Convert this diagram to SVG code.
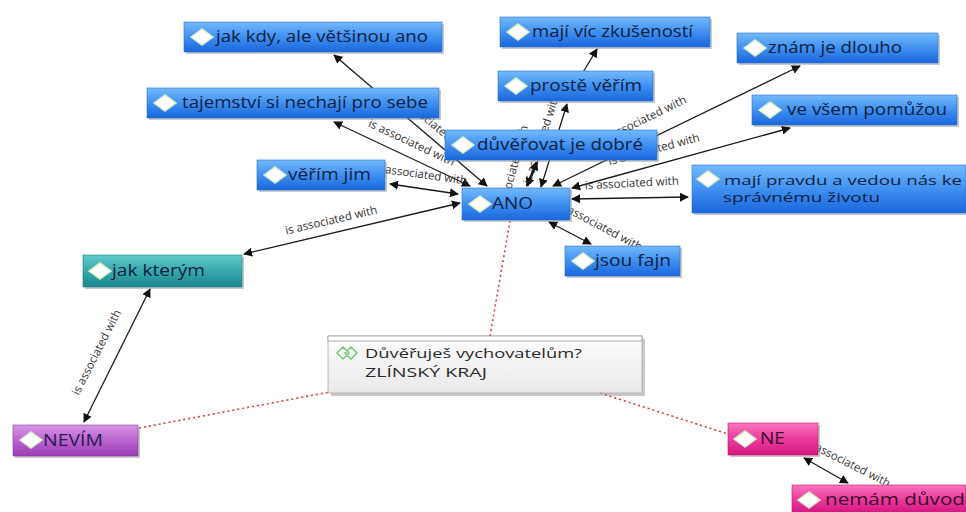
<svg xmlns="http://www.w3.org/2000/svg" width="966" height="512" viewBox="0 0 966 512">
<defs>
<linearGradient id="gBlue" x1="0" y1="0" x2="0" y2="1"><stop offset="0" stop-color="#74b9fb"/><stop offset="0.5" stop-color="#3f90f1"/><stop offset="1" stop-color="#1a66dc"/></linearGradient>
<linearGradient id="gTeal" x1="0" y1="0" x2="0" y2="1"><stop offset="0" stop-color="#62c9c9"/><stop offset="0.5" stop-color="#36a9ad"/><stop offset="1" stop-color="#1d8790"/></linearGradient>
<linearGradient id="gPurple" x1="0" y1="0" x2="0" y2="1"><stop offset="0" stop-color="#d896e6"/><stop offset="0.5" stop-color="#b964cf"/><stop offset="1" stop-color="#9a3db3"/></linearGradient>
<linearGradient id="gPink" x1="0" y1="0" x2="0" y2="1"><stop offset="0" stop-color="#fa74bd"/><stop offset="0.5" stop-color="#ec3c9c"/><stop offset="1" stop-color="#d31680"/></linearGradient>
<linearGradient id="gNote" x1="0" y1="0" x2="0" y2="1"><stop offset="0" stop-color="#fdfdfd"/><stop offset="1" stop-color="#e9e9e9"/></linearGradient>
<marker id="ah" viewBox="0 0 10 10" refX="9" refY="5" markerWidth="9" markerHeight="9" markerUnits="userSpaceOnUse" orient="auto-start-reverse"><path d="M0,0 L10,5 L0,10 Z" fill="#111"/></marker>
<marker id="ahe" viewBox="0 0 10 10" refX="9" refY="5" markerWidth="9" markerHeight="9" markerUnits="userSpaceOnUse" orient="auto"><path d="M0,0 L10,5 L0,10 Z" fill="#111"/></marker>
<g id="dia"><path d="M-11,0 L0,-8 L11,0 L0,8 Z" fill="#ffffff" stroke="#d8f0c8" stroke-width="1.5"/></g>
</defs>
<style>
.lk{stroke:#1a1a1a;stroke-width:1.3;fill:none;marker-start:url(#ah);marker-end:url(#ah)}
.one{stroke:#1a1a1a;stroke-width:1.3;fill:none;marker-end:url(#ahe)}
.thick{stroke-width:2.6}
.dot{stroke:#e23a3a;stroke-width:1.6;stroke-dasharray:2 3;fill:none}
.lb{font-family:"Open Sans","DejaVu Sans",sans-serif;font-size:11.5px;fill:#333;text-anchor:middle}
.sh{fill:#8a8a8a;opacity:0.45}
.nt{font-family:"Open Sans","DejaVu Sans",sans-serif;font-size:15.5px;fill:#10203f}
.nt2{font-family:"Open Sans","DejaVu Sans",sans-serif;font-size:13.5px;fill:#10203f}
.nt3{font-family:"Open Sans","DejaVu Sans",sans-serif;font-size:13px;fill:#10203f}
.bl{fill:url(#gBlue)}
.nodeStroke{stroke:#2b6fd0;stroke-width:0.6}
</style>
<rect width="966" height="512" fill="#ffffff"/>
<g id="connectors">
<path class="dot" d="M490,336 L510,221"/>
<path class="dot" d="M139,428 L330,392"/>
<path class="dot" d="M600,393 L728,434"/>
<line class="lk" x1="487" y1="186" x2="334" y2="55"/>
<text class="lb" transform="translate(432,128) rotate(40)">is associated with</text>
<line class="lk" x1="470" y1="186" x2="334" y2="122"/>
<text class="lb" transform="translate(410,146) rotate(25)">is associated with</text>
<line class="lk" x1="390" y1="184" x2="458" y2="194"/>
<text class="lb" transform="translate(420,178) rotate(8)">is associated with</text>
<line class="lk" x1="460" y1="203" x2="244" y2="254"/>
<text class="lb" transform="translate(332,224) rotate(-13)">is associated with</text>
<line class="lk" x1="541" y1="187" x2="567" y2="104"/>
<text class="lb" transform="translate(545,140) rotate(-72)">is associated with</text>
<line class="lk thick" x1="527" y1="186" x2="537" y2="162"/>
<text class="lb" transform="translate(516,172) rotate(-75)">is associated with</text>
<line class="one" x1="582" y1="74" x2="597" y2="49"/>
<line class="lk" x1="553" y1="186" x2="800" y2="66"/>
<text class="lb" transform="translate(645,123) rotate(-26)">is associated with</text>
<line class="lk" x1="572" y1="188" x2="790" y2="128"/>
<text class="lb" transform="translate(655,153) rotate(-15)">is associated with</text>
<line class="lk" x1="572" y1="199" x2="688" y2="197"/>
<text class="lb" transform="translate(632,187) rotate(-3)">is associated with</text>
<line class="lk" x1="549" y1="222" x2="591" y2="244"/>
<text class="lb" transform="translate(598,229) rotate(28)">is associated with</text>
<line class="lk" x1="150" y1="289" x2="84" y2="422"/>
<text class="lb" transform="translate(100,354) rotate(-63)">is associated with</text>
<line class="lk" x1="804" y1="458" x2="848" y2="483"/>
<text class="lb" transform="translate(846,466) rotate(27)">is associated with</text>
</g>
<g id="n-jakkdy"><rect class="sh" x="186" y="24" width="258" height="30"/><rect class="bl nodeStroke" x="184" y="22" width="258" height="30"/><use href="#dia" x="202" y="37"/><text class="nt" x="216" y="42" textLength="212" lengthAdjust="spacingAndGlyphs">jak kdy, ale většinou ano</text></g>
<g id="n-tajemstvi"><rect class="sh" x="149" y="90" width="292" height="30"/><rect class="bl nodeStroke" x="147" y="88" width="292" height="30"/><use href="#dia" x="165" y="103"/><text class="nt" x="182" y="108" textLength="246" lengthAdjust="spacingAndGlyphs">tajemství si nechají pro sebe</text></g>
<g id="n-verimjim"><rect class="sh" x="259" y="162" width="128" height="30"/><rect class="bl nodeStroke" x="257" y="160" width="128" height="30"/><use href="#dia" x="275" y="175"/><text class="nt" x="288" y="180" textLength="83" lengthAdjust="spacingAndGlyphs">věřím jim</text></g>
<g id="n-zkusenosti"><rect class="sh" x="502" y="19" width="210" height="30"/><rect class="bl nodeStroke" x="500" y="17" width="210" height="30"/><use href="#dia" x="518" y="32"/><text class="nt" x="532" y="37" textLength="161" lengthAdjust="spacingAndGlyphs">mají víc zkušeností</text></g>
<g id="n-proste"><rect class="sh" x="500" y="73" width="155" height="30"/><rect class="bl nodeStroke" x="498" y="71" width="155" height="30"/><use href="#dia" x="516" y="86"/><text class="nt" x="530" y="91" textLength="112" lengthAdjust="spacingAndGlyphs">prostě věřím</text></g>
<g id="n-duverovat"><rect class="sh" x="447" y="132" width="212" height="30"/><rect class="bl nodeStroke" x="445" y="130" width="212" height="30"/><use href="#dia" x="463" y="145"/><text class="nt" x="477" y="150" textLength="166" lengthAdjust="spacingAndGlyphs">důvěřovat je dobré</text></g>
<g id="n-ano"><rect class="sh" x="464" y="190" width="108" height="32"/><rect class="bl nodeStroke" x="462" y="188" width="108" height="32"/><use href="#dia" x="480" y="204"/><text class="nt" x="492" y="209" textLength="41" lengthAdjust="spacingAndGlyphs">ANO</text></g>
<g id="n-znam"><rect class="sh" x="739" y="35" width="201" height="30"/><rect class="bl nodeStroke" x="737" y="33" width="201" height="30"/><use href="#dia" x="755" y="48"/><text class="nt" x="768" y="53" textLength="134" lengthAdjust="spacingAndGlyphs">znám je dlouho</text></g>
<g id="n-vevsem"><rect class="sh" x="754" y="97" width="205" height="30"/><rect class="bl nodeStroke" x="752" y="95" width="205" height="30"/><use href="#dia" x="770" y="110"/><text class="nt" x="787" y="115" textLength="160" lengthAdjust="spacingAndGlyphs">ve všem pomůžou</text></g>
<g id="n-pravdu"><rect class="sh" x="694" y="167" width="272" height="48"/><rect class="bl nodeStroke" x="692" y="165" width="274" height="48"/><use href="#dia" x="708" y="179"/><text class="nt3" x="724" y="185" textLength="238" lengthAdjust="spacingAndGlyphs">mají pravdu a vedou nás ke</text><text class="nt3" x="723" y="202" textLength="157" lengthAdjust="spacingAndGlyphs">správnému životu</text></g>
<g id="n-fajn"><rect class="sh" x="567" y="248" width="115" height="30"/><rect class="bl nodeStroke" x="565" y="246" width="115" height="30"/><use href="#dia" x="583" y="261"/><text class="nt" x="595" y="266" textLength="76" lengthAdjust="spacingAndGlyphs">jsou fajn</text></g>
<g id="n-jakkterym"><rect class="sh" x="85" y="257" width="159" height="32"/><rect x="83" y="255" width="159" height="32" fill="url(#gTeal)" stroke="#1d7f86" stroke-width="0.6"/><use href="#dia" x="100" y="271"/><text class="nt" x="112" y="276" textLength="93" lengthAdjust="spacingAndGlyphs">jak kterým</text></g>
<g id="n-nevim"><rect class="sh" x="15" y="427" width="125" height="31"/><rect x="13" y="425" width="125" height="31" fill="url(#gPurple)" stroke="#8a3aa3" stroke-width="0.6"/><use href="#dia" x="31" y="440"/><text class="nt" x="43" y="446" textLength="60" lengthAdjust="spacingAndGlyphs" style="fill:#2a1850">NEVÍM</text></g>
<g id="n-ne"><rect class="sh" x="730" y="425" width="90" height="32"/><rect x="728" y="423" width="90" height="32" fill="url(#gPink)" stroke="#c0146f" stroke-width="0.6"/><use href="#dia" x="745" y="439"/><text class="nt" x="760" y="444" textLength="25" lengthAdjust="spacingAndGlyphs" style="fill:#3a0a30">NE</text></g>
<g id="n-duvod"><rect x="792" y="485" width="174" height="28" fill="url(#gPink)" stroke="#c0146f" stroke-width="0.6"/><use href="#dia" x="809" y="500"/><text class="nt" x="825" y="505" textLength="140" lengthAdjust="spacingAndGlyphs" style="fill:#3a0a30">nemám důvod</text></g>
<g id="n-note"><rect class="sh" x="331" y="339" width="314" height="57"/><rect x="328" y="336" width="314" height="57" fill="url(#gNote)" stroke="#a8a8a8" stroke-width="0.8"/><rect x="328" y="336" width="314" height="5" fill="#ffffff" stroke="#9a9a9a" stroke-width="0.8"/><path d="M337,353 L343,347 L349,353 L343,359 Z M345,353 L351,347 L357,353 L351,359 Z" fill="none" stroke="#7cc576" stroke-width="1.5"/><text class="nt2" x="365" y="358" textLength="217" lengthAdjust="spacingAndGlyphs" style="fill:#2a2a2a">Důvěřuješ vychovatelům?</text><text class="nt2" x="365" y="377" textLength="122" lengthAdjust="spacingAndGlyphs" style="fill:#2a2a2a">ZLÍNSKÝ KRAJ</text></g>
</svg>
